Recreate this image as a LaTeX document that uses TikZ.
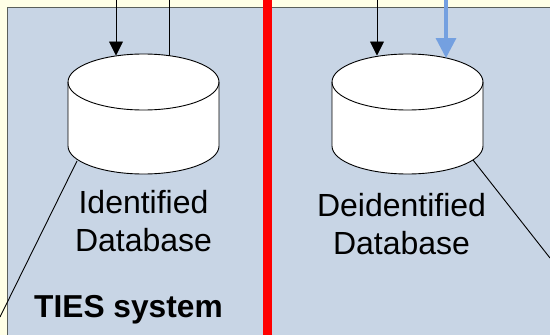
\documentclass[tikz,border=0pt]{standalone}
\usepackage{fontspec}
\setmainfont{Liberation Sans}
\usetikzlibrary{arrows.meta}
\definecolor{bgyellow}{HTML}{FFFFE6}
\definecolor{panelblue}{HTML}{C8D5E5}
\definecolor{panelline}{HTML}{5A5F5A}
\definecolor{bluearrow}{HTML}{74A0E0}
\tikzset{
  dbbox/.style={rectangle,minimum width=151pt,minimum height=120pt,inner sep=0pt,outer sep=0pt},
  dbline/.style={draw=black,fill=white,line width=0.9pt},
  link/.style={draw=black,line width=0.9pt},
  flow/.style={link,-{Triangle[length=14pt,width=14pt]}},
  blueflow/.style={draw=bluearrow,line width=3.3pt,-{Triangle[length=20pt,width=20pt]}},
  lbl/.style={font=\fontsize{32}{38.3}\selectfont,align=center,text=black,inner sep=0pt},
  title/.style={font=\fontsize{31.7}{37}\selectfont\bfseries,text=black,inner sep=0pt}
}
\newcommand{\drawdb}[1]{%
  \begin{scope}[shift={(#1.center)}]
    \draw[dbline] (-75.5,-32) -- (-75.5,32)
      arc[start angle=180,end angle=360,x radius=75.5pt,y radius=28pt]
      -- (75.5,-32)
      arc[start angle=0,end angle=180,x radius=75.5pt,y radius=28pt] -- cycle;
    \draw[dbline,fill=none] (-75.5,-32)
      arc[start angle=180,end angle=360,x radius=75.5pt,y radius=28pt];
  \end{scope}}
\begin{document}
\begin{tikzpicture}[x=1pt,y=-1pt]
\useasboundingbox (0,0) rectangle (550,335);
\fill[bgyellow] (0,0) rectangle (550,335);
\path[fill=panelblue,draw=panelline,line width=1.2pt] (7.5,360) -- (7.5,7.5) -- (580,7.5) -- (580,360);
\fill[red] (263,0) rectangle (271.5,335);
\node[dbbox] (dbL) at (143.5,114) {};
\node[dbbox] (dbR) at (407.5,114) {};
\drawdb{dbL}
\drawdb{dbR}
\coordinate (a1) at (116,0);
\coordinate (a2) at (169,0);
\coordinate (a3) at (377,0);
\coordinate (a4) at (446,0);
\coordinate (l1s) at (77,161);
\coordinate (l1e) at (0,317);
\coordinate (l2s) at (473,160);
\coordinate (l2e) at (550,258);
\draw[flow] (a1) -- ([yshift=-1.5pt]a1 |- dbL.north);
\draw[link] (a2) -- ([yshift=-2pt]a2 |- dbL.north);
\draw[flow] (a3) -- ([yshift=-1.5pt]a3 |- dbR.north);
\draw[blueflow] (a4) -- ([yshift=-4pt]a4 |- dbR.north);
\draw[link] (l1s) -- (l1e);
\draw[link] (l2s) -- (l2e);
\node[lbl] (tL) at (143.5,221) {Identified\\Database};
\node[lbl] (tR) at (401.5,224) {Deidentified\\Database};
\node[title] (tT) at (128.5,310) {TIES system};
\end{tikzpicture}
\end{document}
